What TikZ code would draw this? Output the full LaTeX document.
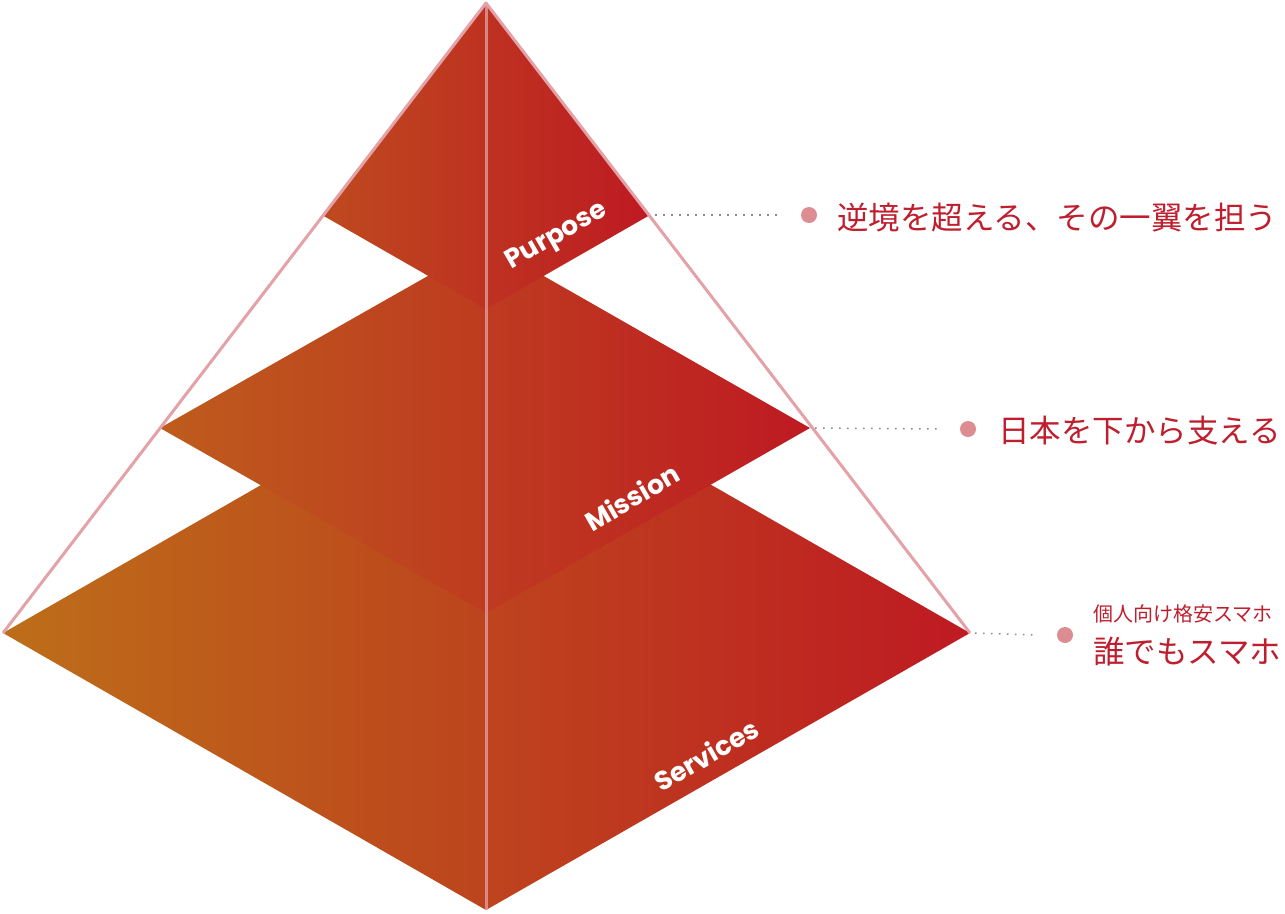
\documentclass[tikz,border=0pt]{standalone}
\usepackage{fontspec}
\usetikzlibrary{calc}
\newfontfamily\jpfont{Noto Sans CJK JP}
\newfontfamily\labelfont{Poppins}
\definecolor{tierred}{HTML}{BE1A22}
\definecolor{servorange}{HTML}{BD6E19}
\definecolor{missorange}{HTML}{BE5C1D}
\definecolor{purporange}{HTML}{BE4A1F}
\definecolor{edgepink}{HTML}{E3A2A7}
\definecolor{dotpink}{HTML}{DD8C92}
\definecolor{textred}{HTML}{BE1E2D}
\definecolor{leadgray}{HTML}{8A8A8A}
\begin{document}
\begin{tikzpicture}[x=1pt,y=-1pt,
	tierlabel/.style={white,rotate=30,inner sep=0pt,font=\labelfont\bfseries\fontsize{26.5}{26.5}\selectfont},
	bullet/.style={circle,fill=dotpink,inner sep=0pt,minimum size=16pt},
	leader/.style={leadgray,line width=1.5pt,dash pattern=on 1.5pt off 6.5pt},
	motto/.style={textred,anchor=west,inner sep=0pt,font=\jpfont\fontsize{31.5}{31.5}\selectfont}]
	\useasboundingbox (0,0) rectangle (1285,913);
	% corners of the three tiers
	\coordinate (apex) at (486,3);
	\coordinate (base) at (486,910);
	\coordinate (pl) at (322,215); \coordinate (pb) at (486,309); \coordinate (pr) at (650,215);
	\coordinate (ml) at (160,428); \coordinate (mt) at (486,243); \coordinate (mb) at (486,613); \coordinate (mr) at (810,428);
	\coordinate (sl) at (3,633);   \coordinate (st) at (486,356); \coordinate (sb) at (486,910); \coordinate (sr) at (970,633);
	\shade[left color=servorange, right color=tierred] (sl) -- (st) -- (sr) -- (sb) -- cycle;
	\shade[left color=missorange, right color=tierred] (ml) -- (mt) -- (mr) -- (mb) -- cycle;
	\shade[left color=purporange, right color=tierred] (pl) -- (apex) -- (pr) -- (pb) -- cycle;
	\draw[edgepink, line width=3pt, line join=round] (sl) -- (apex) -- (sr);
	\draw[edgepink, opacity=0.75, line width=3pt] (apex) -- (base);
	\node[tierlabel] (purpose) at (557,237) {Purpose};
	\node[tierlabel] (mission) at (632,497) {Mission};
	\node[tierlabel] (services) at (706,755) {Services};
	% right hand side
	\node[bullet] (dot1) at (809,215) {};
	\node[bullet] (dot2) at (968,429) {};
	\node[bullet] (dot3) at (1065,635) {};
	\coordinate (lead1) at ($(dot1.west)+(-22,0)$);
	\coordinate (lead2) at ($(dot2.west)+(-22,0)$);
	\coordinate (lead3) at ($(dot3.west)+(-22,0)$);
	\draw[leader] ($(pr)+(5,0)$) -- (lead1);
	\draw[leader] ($(mr)+(5,0)$) -- (lead2);
	\draw[leader] ($(sr)+(5,0)$) -- (lead3);
	\node[motto] (purposetext) at (837,218) {逆境を超える、その一翼を担う};
	\node[motto] (missiontext) at (998,431) {日本を下から支える};
	\node[motto, font=\jpfont\fontsize{20}{20}\selectfont] (servicesub) at (1093,614) {個人向け格安スマホ};
	\node[motto] (servicestext) at (1093,652) {誰でもスマホ};
\end{tikzpicture}
\end{document}
